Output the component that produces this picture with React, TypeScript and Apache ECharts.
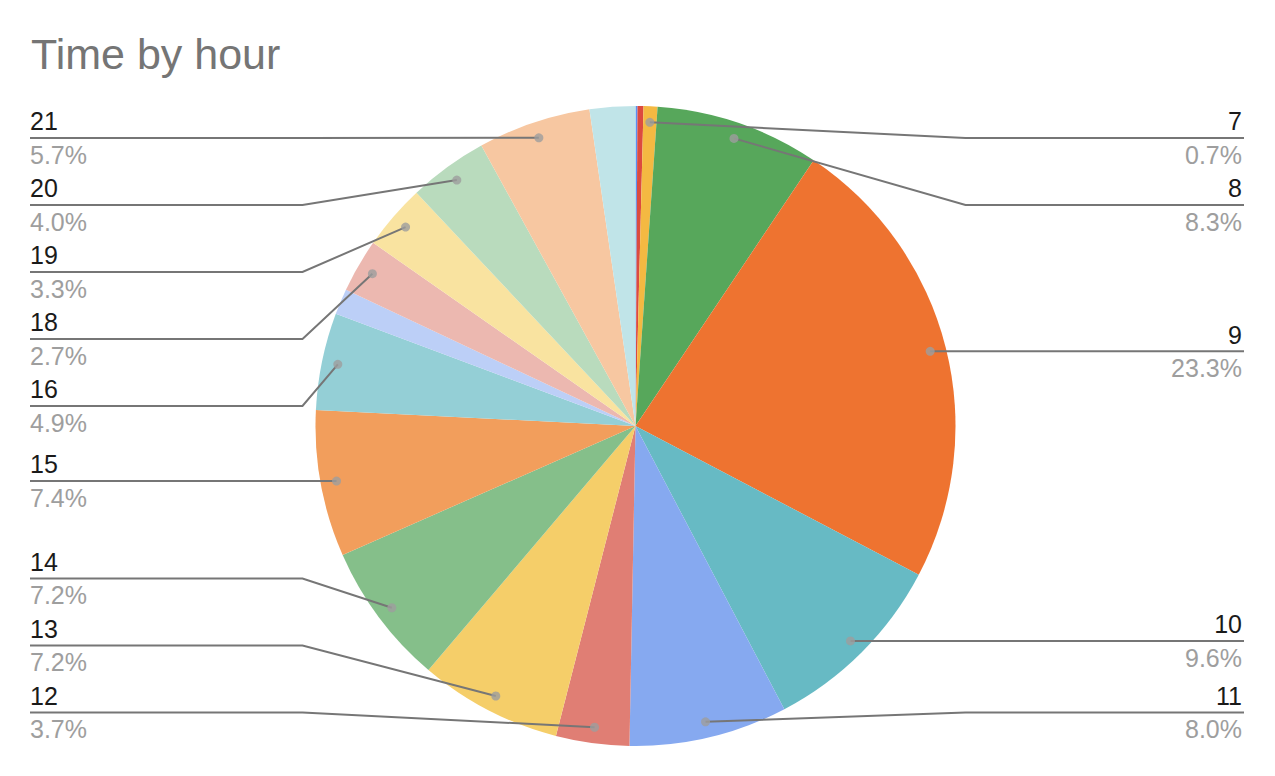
import React, { useEffect, useRef } from "react";
import * as echarts from "echarts";

// ---- data ----
const hours = ["5", "6", "7", "8", "9", "10", "11", "12", "13", "14", "15", "16", "17", "18", "19", "20", "21", "22"];
const shares = [0.1, 0.3, 0.7, 8.3, 23.3, 9.6, 8.0, 3.7, 7.2, 7.2, 7.4, 4.9, 1.3, 2.7, 3.3, 4.0, 5.7, 2.3];
const sliceColors = [
  "#5b8ef0", "#dc4a3f", "#f4b942", "#57a75b", "#ee7330", "#67bac4",
  "#86a9f0", "#e07e74", "#f5ce69", "#85bf8a", "#f29e5c", "#94cfd6",
  "#bccff7", "#ecb8b0", "#f9e3a0", "#b9dbbd", "#f7c7a1", "#c0e4e8",
];
const unlabeled = ["5", "6", "17", "22"];
const titleText = "Time by hour";

// ---- layout ----
const W = 1275;
const H = 776;
const BOX_LEFT = 30;
const BOX_RIGHT = 33;
const BOX_TOP = 106;
const BOX_BOTTOM = 30;
const R = 320;
const CX = 635.5;
const CY = BOX_TOP + (H - BOX_TOP - BOX_BOTTOM) / 2;
const DOT_RATIO = 0.95;
const LABEL_H = 67;
const FONT = "'Liberation Sans', Arial, sans-serif";

type SliceInfo = { i: number; dot: number[]; right: boolean; shown: boolean };

function sliceGeometry(): SliceInfo[] {
  const total = shares.reduce((a, b) => a + b, 0);
  let acc = 0;
  return shares.map((v, i) => {
    const mid = acc + v / 2;
    acc += v;
    const th = (mid / total) * Math.PI * 2;
    return {
      i,
      dot: [CX + DOT_RATIO * R * Math.sin(th), CY - DOT_RATIO * R * Math.cos(th)],
      right: th < Math.PI,
      shown: !unlabeled.includes(hours[i]),
    };
  });
}

// Google-style label stacking: start at the dot height, keep labels apart,
// keep them inside the vertical extent of the pie.
function labelTargets(info: SliceInfo[]): Record<number, number> {
  const minY = CY - R + LABEL_H / 2 - 1.5;
  const maxY = CY + R - LABEL_H / 2;
  const out: Record<number, number> = {};
  [true, false].forEach((side) => {
    const list = info.filter((d) => d.shown && d.right === side).sort((a, b) => a.dot[1] - b.dot[1]);
    const ys = list.map((d) => d.dot[1]);
    for (let k = 0; k < ys.length; k++) {
      ys[k] = Math.max(ys[k], minY, k > 0 ? ys[k - 1] + LABEL_H : -Infinity);
    }
    for (let k = ys.length - 1; k >= 0; k--) {
      ys[k] = Math.min(ys[k], maxY, k < ys.length - 1 ? ys[k + 1] - LABEL_H : Infinity);
    }
    list.forEach((d, k) => (out[d.i] = ys[k]));
  });
  return out;
}

export default function App() {
  const ref = useRef<HTMLDivElement>(null);

  useEffect(() => {
    document.body.style.margin = "0";
    if (!ref.current) return;
    const chart = echarts.init(ref.current, null, { renderer: "svg" });

    const total = shares.reduce((a, b) => a + b, 0);
    const info = sliceGeometry();
    const targets = labelTargets(info);

    let acc = 0;
    const dots: number[][] = [];
    shares.forEach((v, i) => {
      const mid = acc + v / 2;
      acc += v;
      if (!unlabeled.includes(hours[i])) dots.push([DOT_RATIO, mid]);
    });

    const boxW = W - BOX_LEFT - BOX_RIGHT;
    const centerXPct = ((CX - BOX_LEFT) / boxW) * 100;

    const common = {
      type: "pie",
      left: BOX_LEFT,
      right: BOX_RIGHT,
      top: BOX_TOP,
      bottom: BOX_BOTTOM,
      center: [centerXPct + "%", "50%"],
      radius: R,
      startAngle: 90,
      clockwise: true,
    };

    const visibleData = hours.map((h, i) => ({
      name: h,
      value: shares[i],
      itemStyle: { color: sliceColors[i] },
    }));

    const overlayData = hours.map((h, i) => {
      const hide = unlabeled.includes(h);
      return {
        name: h,
        value: shares[i],
        label: hide ? { show: false } : undefined,
        labelLine: hide ? { show: false } : undefined,
      };
    });

    chart.setOption({
      animation: false,
      title: {
        text: titleText,
        left: 31,
        top: 32,
        padding: 0,
        textStyle: {
          fontSize: 43,
          fontWeight: "normal",
          color: "#757575",
          fontFamily: FONT,
        },
      },
      polar: { center: [CX, CY], radius: R },
      angleAxis: {
        type: "value",
        min: 0,
        max: total,
        startAngle: 90,
        clockwise: true,
        show: false,
      },
      radiusAxis: { type: "value", min: 0, max: 1, show: false },
      series: [
        {
          ...common,
          z: 2,
          silent: true,
          data: visibleData,
          label: { show: false },
          labelLine: { show: false },
        },
        {
          ...common,
          z: 3,
          silent: true,
          data: overlayData,
          itemStyle: { color: "rgba(0,0,0,0)" },
          label: {
            show: true,
            alignTo: "edge",
            edgeDistance: 0,
            fontFamily: FONT,
            formatter: (p: any) => `{n|${p.name}}\n{p|${p.percent.toFixed(1)}%}`,
            rich: {
              n: { fontSize: 25, lineHeight: 33.5, color: "#1a1a1a", fontFamily: FONT },
              p: { fontSize: 25, lineHeight: 33.5, color: "#9e9e9e", fontFamily: FONT },
            },
          },
          labelLine: {
            show: true,
            length: 0,
            length2: 0,
            smooth: false,
            lineStyle: { color: "#767676", width: 2 },
          },
          labelLayout: (params: any) => {
            const idx = params.dataIndex;
            const rect = params.labelRect;
            const t = targets[idx];
            if (t == null || !rect) return {};
            const d = info[idx];
            const kneeX = d.right ? CX + R + 10 : CX - R - 13;
            const endX = d.right ? rect.x + rect.width + 2 : rect.x;
            return {
              y: t,
              verticalAlign: "middle",
              labelLinePoints: [d.dot, [kneeX, t], [endX, t]],
            };
          },
        },
        {
          type: "scatter",
          coordinateSystem: "polar",
          data: dots,
          symbol: "circle",
          symbolSize: 9,
          itemStyle: { color: "#9e9e9e" },
          silent: true,
          z: 5,
        },
      ],
    });

    return () => chart.dispose();
  }, []);

  return <div ref={ref} style={{ width: W, height: H }} />;
}
